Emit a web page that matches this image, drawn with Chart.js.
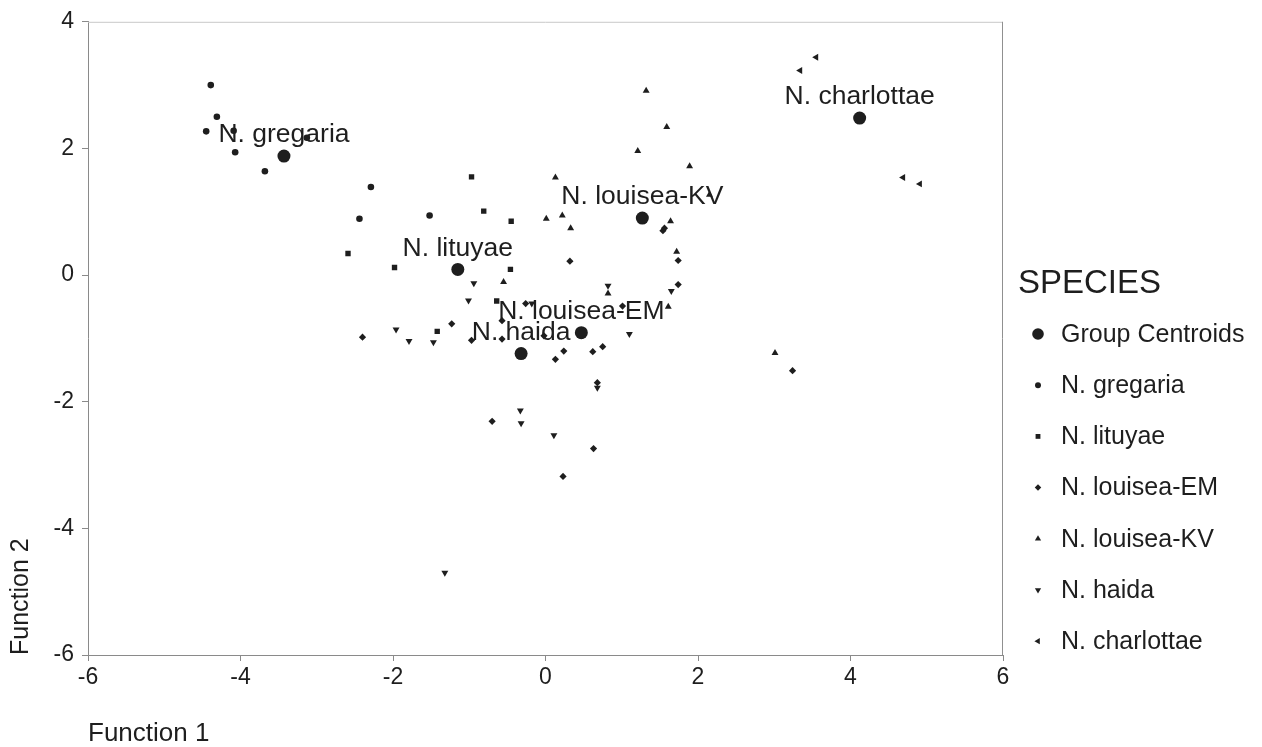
<!DOCTYPE html>
<html>
<head>
<meta charset="utf-8">
<script src="https://cdn.jsdelivr.net/npm/chart.js@4.4.0/dist/chart.umd.min.js"></script>
<style>
  html, body { margin: 0; padding: 0; background: #fff; }
  #wrap { width: 1262px; height: 747px; }
</style>
</head>
<body>
<div id="wrap"><canvas id="chart"></canvas></div>
<script>
const SPECIES = ["N. gregaria", "N. lituyae", "N. louisea-EM", "N. louisea-KV", "N. haida", "N. charlottae"];
const centroidX = [-3.43, -1.15, 0.47, 1.27, -0.32, 4.12];
const centroidY = [1.88, 0.09, -0.91, 0.90, -1.24, 2.48];

const gregaria = [[-4.39, 3.00], [-4.31, 2.50], [-4.45, 2.27], [-4.09, 2.28], [-4.07, 1.94],
  [-3.68, 1.64], [-3.13, 2.17], [-2.29, 1.39], [-2.44, 0.89], [-1.52, 0.94]];
const lituyae = [[-2.59, 0.34], [-1.98, 0.12], [-0.97, 1.55], [-0.81, 1.01], [-0.45, 0.85],
  [-0.46, 0.09], [-1.42, -0.89], [-0.64, -0.41]];
const louiseaEM = [[0.32, 0.22], [-2.40, -0.98], [-1.23, -0.77], [-0.57, -0.72], [-0.26, -0.45],
  [-0.97, -1.03], [-0.57, -1.01], [-0.02, -0.96], [0.24, -1.20], [0.13, -1.33], [0.62, -1.21],
  [0.75, -1.13], [1.01, -0.49], [-0.70, -2.31], [0.63, -2.74], [0.23, -3.18], [0.68, -1.70],
  [1.54, 0.70], [1.56, 0.74], [1.74, 0.23], [1.74, -0.15], [3.24, -1.51]];
const louiseaKV = [[1.32, 2.91], [1.59, 2.34], [1.21, 1.96], [1.89, 1.72], [0.13, 1.54],
  [0.01, 0.89], [0.22, 0.94], [0.33, 0.74], [1.64, 0.85], [1.72, 0.37], [-0.55, -0.11],
  [1.61, -0.50], [3.01, -1.23], [0.82, -0.29], [2.15, 1.27]];
const haida = [[-0.94, -0.13], [-1.01, -0.40], [-1.96, -0.86], [-1.79, -1.04], [-1.47, -1.06],
  [-0.18, -0.45], [-0.33, -2.14], [-0.32, -2.34], [0.11, -2.53], [-1.32, -4.70], [0.68, -1.78],
  [1.10, -0.93], [1.65, -0.25], [0.82, -0.17]];
const charlottae = [[3.55, 3.44], [3.34, 3.23], [4.69, 1.54], [4.91, 1.44]];

const FONT = '"Liberation Sans", Arial, sans-serif';
const INK = '#1e1e1e';

const toXY = pts => pts.map(p => ({ x: p[0], y: p[1] }));

function series(label, pts, style, radius, rotation) {
  return {
    label: label,
    data: toXY(pts),
    pointStyle: style,
    pointRadius: radius,
    rotation: rotation || 0,
    backgroundColor: INK,
    borderColor: INK,
    borderWidth: 0,
  };
}

const datasets = [
  series("Group Centroids", centroidX.map((x, i) => [x, centroidY[i]]), "circle", 6.5),
  series(SPECIES[0], gregaria, "circle", 3.3),
  series(SPECIES[1], lituyae, "rect", 3.8),
  series(SPECIES[2], louiseaEM, "rectRot", 3.6),
  series(SPECIES[3], louiseaKV, "triangle", 4),
  series(SPECIES[4], haida, "triangle", 4, 180),
  series(SPECIES[5], charlottae, "triangle", 4, 270),
];

// light frame on top and right like the original plot box
const framePlugin = {
  id: "frame",
  beforeDatasetsDraw(chart) {
    const { ctx, chartArea: a } = chart;
    ctx.save();
    ctx.lineWidth = 1;
    ctx.strokeStyle = "#c8c8c8";
    ctx.beginPath();
    ctx.moveTo(a.left, a.top + 0.5);
    ctx.lineTo(a.right, a.top + 0.5);
    ctx.stroke();
    ctx.strokeStyle = "#909090";
    ctx.beginPath();
    ctx.moveTo(a.right - 0.5, a.top);
    ctx.lineTo(a.right - 0.5, a.bottom);
    ctx.stroke();
    ctx.restore();
  }
};

// species names above each group centroid
const centroidLabels = {
  id: "centroidLabels",
  afterDatasetsDraw(chart) {
    const { ctx, scales } = chart;
    ctx.save();
    ctx.fillStyle = INK;
    ctx.font = "26.5px " + FONT;
    ctx.textAlign = "center";
    ctx.textBaseline = "middle";
    SPECIES.forEach((name, i) => {
      const px = scales.x.getPixelForValue(centroidX[i]);
      const py = scales.y.getPixelForValue(centroidY[i]);
      ctx.fillText(name, px, py - 21);
    });
    ctx.restore();
  }
};

const speciesLegend = {
  id: "speciesLegend",
  afterDraw(chart) {
    const { ctx, chartArea: a } = chart;
    const left = a.right + 15;
    ctx.save();
    ctx.fillStyle = INK;
    ctx.textAlign = "left";
    ctx.font = "33px " + FONT;
    ctx.textBaseline = "alphabetic";
    ctx.fillText("SPECIES", left, 293);
    ctx.font = "25px " + FONT;
    ctx.textBaseline = "middle";
    chart.data.datasets.forEach((ds, i) => {
      const y = 334 + i * 51.2;
      const r = i === 0 ? 5.8 : ds.pointRadius * 0.9;
      Chart.helpers.drawPoint(ctx, { pointStyle: ds.pointStyle, radius: r, rotation: ds.rotation, borderWidth: 0 }, left + 20, y);
      ctx.fillText(ds.label, left + 43, y + 1);
    });
    ctx.restore();
  }
};

const tickStyle = { color: INK, font: { family: FONT, size: 23 } };

new Chart(document.getElementById("chart"), {
  type: "scatter",
  data: { datasets: datasets },
  options: {
    responsive: true,
    maintainAspectRatio: false,
    animation: false,
    layout: { padding: { top: 21, right: 259, left: 0, bottom: 0 } },
    plugins: {
      legend: { display: false },
      tooltip: { enabled: false },
    },
    scales: {
      x: {
        type: "linear",
        min: -6,
        max: 6,
        ticks: Object.assign({ stepSize: 2, padding: 3, maxRotation: 0 }, tickStyle),
        grid: { drawOnChartArea: false, drawTicks: true, tickLength: 6, color: "#8a8a8a" },
        border: { color: "#8a8a8a" },
        title: {
          display: true, text: "Function 1", align: "start", color: INK,
          font: { family: FONT, size: 26, lineHeight: 1 }, padding: { top: 0, bottom: 0 }
        },
        afterFit(scale) { scale.height = 92; }
      },
      y: {
        type: "linear",
        min: -6,
        max: 4,
        ticks: Object.assign({ stepSize: 2, padding: 8 }, tickStyle),
        grid: { drawOnChartArea: false, drawTicks: true, tickLength: 6, color: "#8a8a8a" },
        border: { color: "#8a8a8a" },
        title: {
          display: true, text: "Function 2", align: "start", color: INK,
          font: { family: FONT, size: 25, lineHeight: 1.2 }, padding: { top: 6, bottom: 0 }
        },
        afterFit(scale) { scale.width = 88; }
      }
    }
  },
  plugins: [framePlugin, centroidLabels, speciesLegend]
});
</script>
</body>
</html>
